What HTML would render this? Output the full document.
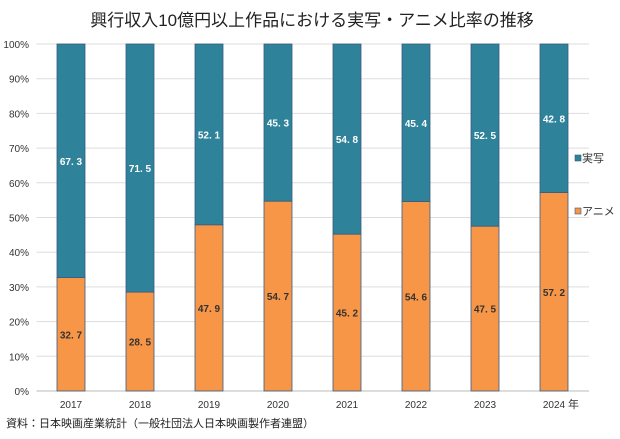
<!DOCTYPE html>
<html><head><meta charset="utf-8"><style>
body{margin:0;background:#fff;width:620px;height:434px;overflow:hidden;font-family:"Liberation Sans","Noto Sans CJK JP",sans-serif}
</style></head><body>
<svg id="c" width="620" height="434" font-family="'Liberation Sans','Noto Sans CJK JP',sans-serif">
<text x="312" y="26" text-anchor="middle" font-size="17" fill="#222">興行収入10億円以上作品における実写・アニメ比率の推移</text>
<g id="grid"></g><g id="bars"></g><g id="labels"></g>
<g>
<rect x="575" y="155" width="6" height="6" fill="#2e8299" stroke="#3a5a80" stroke-width="0.6"/>
<text x="582" y="162" font-size="11" fill="#333">実写</text>
<rect x="575" y="208" width="6" height="6" fill="#f79646" stroke="#3a5a80" stroke-width="0.6"/>
<text x="582" y="215" font-size="11" fill="#333">アニメ</text>
</g>
<text x="568" y="408" font-size="11" fill="#333">年</text>
<text x="6" y="427" font-size="11" fill="#222">資料：日本映画産業統計（一般社団法人日本映画製作者連盟）</text>
</svg>
<script>
const years=["2017","2018","2019","2020","2021","2022","2023","2024"];
const anime=[32.7,28.5,47.9,54.7,45.2,54.6,47.5,57.2];
const live=[67.3,71.5,52.1,45.3,54.8,45.4,52.5,42.8];
const yTicks=[0,10,20,30,40,50,60,70,80,90,100];
const NS="http://www.w3.org/2000/svg";
const x0=36.5,step=69,y0=391,y1=44,bw=28;
const yS=v=>y0-(v/100)*(y0-y1);
const xS=i=>x0+step*(i+0.5);
function mk(t,a,p){const e=document.createElementNS(NS,t);for(const k in a)e.setAttribute(k,a[k]);p.appendChild(e);return e;}
const g=document.getElementById('grid'),b=document.getElementById('bars'),l=document.getElementById('labels');
yTicks.forEach(v=>{
 const ln=mk('line',{x1:x0,x2:589,y1:yS(v),y2:yS(v),stroke:v===0?'#bbb':'#ddd','stroke-width':1},g);
 
 
 const t=mk('text',{x:29,y:yS(v)+4,'text-anchor':'end','font-size':10,fill:'#333'},g);
 t.textContent=v+'%';
 
 
});
years.forEach((yr,i)=>{
 const cx=xS(i);
 const ra=mk('rect',{x:cx-bw/2,y:yS(anime[i]),width:bw,height:yS(0)-yS(anime[i]),fill:'#f79646',stroke:'#3a5a80','stroke-width':0.8},b);
 
 
 const rl=mk('rect',{x:cx-bw/2,y:yS(anime[i]+live[i]),width:bw,height:yS(anime[i])-yS(anime[i]+live[i]),fill:'#2e8299',stroke:'#3a5a80','stroke-width':0.8},b);
 
 
 const ta=mk('text',{x:cx,y:(yS(0)+yS(anime[i]))/2+4,'text-anchor':'middle','font-size':10,'font-weight':'bold',fill:'#333'},l);
 ta.textContent=anime[i].toFixed(1).replace('.','. ');
 
 
 const tl=mk('text',{x:cx,y:(yS(anime[i])+yS(anime[i]+live[i]))/2+4,'text-anchor':'middle','font-size':10,'font-weight':'bold',fill:'#fff'},l);
 tl.textContent=live[i].toFixed(1).replace('.','. ');
 
 
 const tx=mk('text',{x:cx,y:408,'text-anchor':'middle','font-size':10,fill:'#333'},l);
 tx.textContent=yr;
 
 
});
</script>
</body></html>
